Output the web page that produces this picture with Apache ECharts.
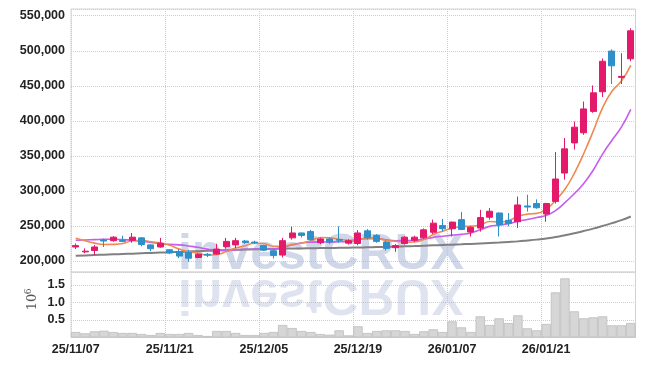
<!DOCTYPE html>
<html><head><meta charset="utf-8">
<script src="https://cdn.jsdelivr.net/npm/echarts@6/dist/echarts.min.js"></script>
<style>html,body{margin:0;padding:0;background:#fff}#c{width:645px;height:366px}</style>
</head><body><div id="c"></div>
<script>
const dates = ['25/11/07','25/11/10','25/11/11','25/11/12','25/11/13','25/11/14','25/11/17','25/11/18','25/11/19','25/11/20',
'25/11/21','25/11/24','25/11/25','25/11/26','25/11/27','25/11/28','25/12/01','25/12/02','25/12/03','25/12/04',
'25/12/05','25/12/08','25/12/09','25/12/10','25/12/11','25/12/12','25/12/15','25/12/16','25/12/17','25/12/18',
'25/12/19','25/12/22','25/12/23','25/12/24','25/12/26','25/12/29','25/12/30','26/01/02','26/01/05','26/01/06',
'26/01/07','26/01/08','26/01/09','26/01/12','26/01/13','26/01/14','26/01/15','26/01/16','26/01/19','26/01/20',
'26/01/21','26/01/22','26/01/23','26/01/26','26/01/27','26/01/28','26/01/29','26/01/30','26/02/02','26/02/03'];
const opens  = [220000,213000,215000,230000,229000,229500,229500,233000,223000,220000,216000,213500,212000,205000,209500,210000,220500,223000,228500,227000,222000,214500,208500,233000,240000,242000,226000,231500,230500,225500,225000,243000,236500,227000,219000,225000,229500,233000,241000,250500,246000,259000,241500,247000,262500,268500,258000,256000,278500,282000,267000,285000,325500,368500,383000,413500,441500,499500,462000,488500];
const closes = [222000,214000,220000,228500,234000,228000,234000,223500,217500,225500,211500,207000,204000,209500,208500,217000,228000,229000,226500,226000,215500,208000,229000,240000,236500,230500,231500,227000,229500,229000,240000,233000,228000,218000,222000,234000,234000,244500,254000,246000,255500,245000,248000,262000,271000,252000,253500,280000,277000,276000,282000,317000,360000,391000,417000,440000,485000,478500,463500,528500];
const lows   = [217000,211000,209000,220000,227500,227000,226000,221000,214000,219000,210000,204000,199000,204000,205500,209000,217500,218500,224500,224500,214500,203500,205000,230500,233500,229000,224000,224500,226000,223500,222500,230500,226000,215000,213000,223500,227000,231500,238500,242000,235000,244000,235000,242000,259000,235000,249500,247000,270500,274500,256000,282000,316000,359000,380000,411500,434000,452500,452500,485000];
const highs  = [225000,218000,223000,232000,235500,236000,240000,234000,224000,233000,217000,217000,216000,211000,211500,224500,233000,233000,230000,229000,223000,216000,233000,249000,240500,244500,233000,233000,249500,231000,244000,245500,238500,229000,224000,235500,236000,246500,259000,260000,256000,270000,249500,273000,275500,269000,268500,292000,294500,288000,283000,355500,375500,399000,427500,450500,489000,502000,496500,532000];
const ma5  = [232500,229000,225500,223500,223700,224900,228900,229600,227400,225700,222400,217000,213100,211500,208100,209200,213400,218400,221800,225300,225000,221000,221000,223700,225800,228800,233500,233100,231000,229500,231400,231700,231900,229600,228200,227000,227200,230500,237700,242500,246800,249000,249700,251300,256300,255600,257500,263900,266900,267900,273900,286400,302400,325200,353400,385000,418600,442300,456800,479100];
const ma10 = [229500,230000,230500,231000,231000,230500,229500,228000,226500,224700,223700,223000,221400,219500,216900,215800,215200,215800,216700,216700,217100,217200,219700,222800,225600,226900,227300,227100,227400,227700,230100,232600,232500,230300,228900,229200,229500,231200,233700,235400,236900,238100,240100,244500,249400,251200,253300,256800,259100,262100,264800,272000,283200,296100,310700,329500,352500,372400,391000,416300];
const ma60 = [207500,208000,208500,209000,209500,210000,210500,211000,211500,212000,212500,213000,213500,214000,214500,215000,215500,216000,216300,216600,216900,217200,217500,217800,218000,218200,218400,218600,218800,219000,219200,219500,219800,220100,220500,220900,221300,221800,222300,222800,223300,223800,224400,225000,225600,226300,227100,228000,229200,230500,232000,234200,236800,239600,242800,246200,250000,254000,258300,263500];
const volumes = [157000,120000,177000,194000,157000,129000,129000,100000,71000,129000,100000,100000,129000,71000,43000,186000,186000,129000,71000,71000,130000,157000,357000,271000,186000,157000,100000,80000,205000,62000,320000,128000,186000,205000,205000,186000,100000,176000,233000,157000,462000,290000,157000,605000,357000,548000,414000,633000,262000,205000,386000,1290000,1690000,748000,548000,576000,605000,348000,348000,414000];

const candleData = opens.map((o, i) => [o, closes[i], lows[i], highs[i]]);
const gridColor = '#c9cdd8';
const labelFont = "'Liberation Sans',Arial,sans-serif";

const chart = echarts.init(document.getElementById('c'), null, {renderer: 'canvas'});
chart.setOption({
  animation: false,
  backgroundColor: '#fff',
  grid: [
    {left: 71, right: 9.5, top: 9, height: 263, show: true, borderColor: '#d6d6d6', borderWidth: 1},
    {left: 71, right: 9.5, top: 272, height: 65.5, show: true, borderColor: '#d6d6d6', borderWidth: 1}
  ],
  xAxis: [
    {type: 'category', gridIndex: 0, data: dates, boundaryGap: true,
     axisLine: {show: false}, axisTick: {show: false}, axisLabel: {show: false},
     splitLine: {show: true, interval: 9, lineStyle: {color: gridColor, type: 'dotted', width: 1}}},
    {type: 'category', gridIndex: 1, data: dates, boundaryGap: true,
     axisLine: {show: false}, axisTick: {show: false},
     axisLabel: {interval: 9, margin: 6, color: '#222', fontWeight: 'bold', fontSize: 12.5, fontFamily: labelFont},
     splitLine: {show: true, interval: 9, lineStyle: {color: gridColor, type: 'dotted', width: 1}}}
  ],
  yAxis: [
    {type: 'value', gridIndex: 0, min: 184300, max: 559600, splitNumber: 7, minInterval: 50000, maxInterval: 50000,
     axisLine: {show: false}, axisTick: {show: false},
     axisLabel: {margin: 6, color: '#222', fontWeight: 'bold', fontSize: 12.5, fontFamily: labelFont,
       formatter: v => (v % 50000 === 0 ? v.toLocaleString('en-US') : '')},
     splitLine: {show: true, lineStyle: {color: gridColor, type: 'dotted', width: 1}}},
    {type: 'value', gridIndex: 1, min: 0, max: 1871000, splitNumber: 4, minInterval: 500000, maxInterval: 500000,
     axisLine: {show: false}, axisTick: {show: false},
     axisLabel: {margin: 6, color: '#222', fontWeight: 'bold', fontSize: 12.5, fontFamily: labelFont,
       formatter: v => (v > 0 && v % 500000 === 0 ? (v / 1e6).toFixed(1) : '')},
     splitLine: {show: true, lineStyle: {color: gridColor, type: 'dotted', width: 1}}}
  ],
  graphic: [
    {type: 'text', z: 1, silent: true, x: 321, y: 255,
     style: {text: 'investCRUX', font: "bold 50px 'Liberation Sans'", fill: 'rgba(168,182,214,0.55)', align: 'center', verticalAlign: 'middle'}},
    {type: 'text', z: 1, silent: true, x: 321, y: 274.5, scaleY: -1,
     style: {text: 'investCRUX', x: 0, y: -19.5, font: "bold 50px 'Liberation Sans'", fill: 'rgba(168,182,214,0.38)', align: 'center', verticalAlign: 'middle'}},
    {type: 'text', silent: true, x: 33, y: 302, rotation: Math.PI / 2,
     style: {text: '10', font: "13px 'DejaVu Serif'", fill: '#555', align: 'center', verticalAlign: 'middle'}},
    {type: 'text', silent: true, x: 28.5, y: 291.5, rotation: Math.PI / 2,
     style: {text: '6', font: "9px 'DejaVu Serif'", fill: '#555', align: 'center', verticalAlign: 'middle'}}
  ],
  series: [
    {type: 'candlestick', xAxisIndex: 0, yAxisIndex: 0, data: candleData, barWidth: 6.5, z: 3,
     itemStyle: {color: '#e5196c', color0: '#2e8fc9', borderColor: '#e5196c', borderColor0: '#2e8fc9', borderWidth: 1}},
    {type: 'line', xAxisIndex: 0, yAxisIndex: 0, data: ma60, smooth: true, symbol: 'none', z: 2,
     lineStyle: {color: '#808080', width: 2}},
    {type: 'line', xAxisIndex: 0, yAxisIndex: 0, data: ma10, smooth: true, symbol: 'none', z: 2,
     lineStyle: {color: '#c65ded', width: 1.6}},
    {type: 'line', xAxisIndex: 0, yAxisIndex: 0, data: ma5, smooth: true, symbol: 'none', z: 2,
     lineStyle: {color: '#ee8a52', width: 1.6}},
    {type: 'bar', xAxisIndex: 1, yAxisIndex: 1, data: volumes, barCategoryGap: '0%', z: 2,
     itemStyle: {color: '#d6d6d6', borderColor: '#bdbdbd', borderWidth: 0.8}}
  ]
});
</script></body></html>
